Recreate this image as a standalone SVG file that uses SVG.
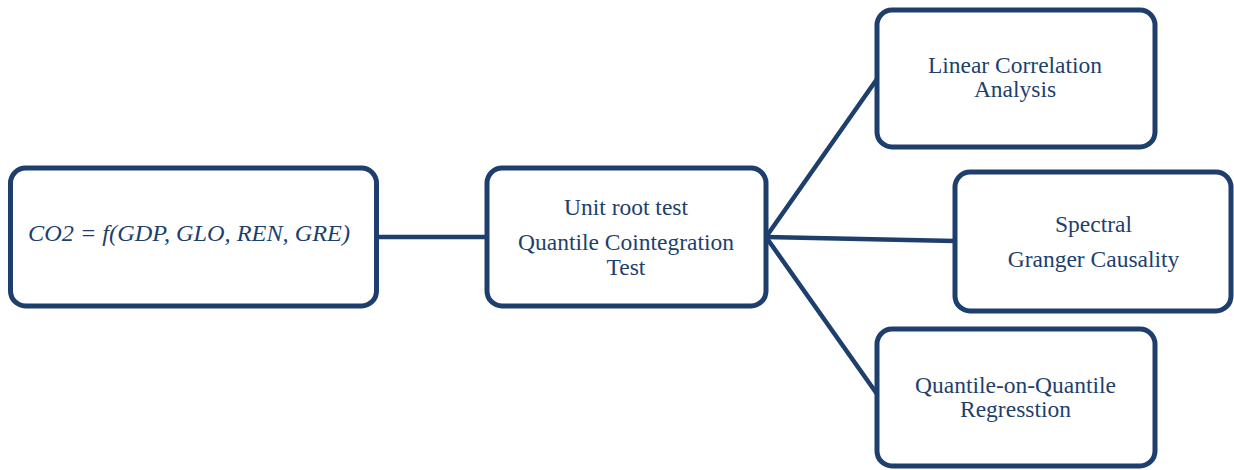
<svg xmlns="http://www.w3.org/2000/svg" width="1234" height="470" viewBox="0 0 1234 470">
<style>
.box{fill:#fff;stroke:#1E3F6D;stroke-width:5}
.ln{stroke:#1E3F6D;stroke-width:4.5;fill:none;stroke-linecap:round}
.t{font-family:"Liberation Serif","Times New Roman",serif;font-size:23.5px;fill:#1E3F6D;text-anchor:middle}
.m{font-family:"Liberation Serif","Times New Roman",serif;font-style:italic;font-size:24px;fill:#1E3F6D}
</style>
<rect width="1234" height="470" fill="#fff"/>
<g id="connectors">
<line class="ln" x1="377" y1="237" x2="487" y2="237"/>
<line class="ln" x1="766" y1="237" x2="877" y2="79"/>
<line class="ln" x1="766" y1="237" x2="955" y2="241"/>
<line class="ln" x1="766" y1="237" x2="877" y2="394"/>
</g>
<g id="model">
<rect class="box" x="10.5" y="168" width="366" height="138" rx="15"/>
<text class="m" x="28" y="241" textLength="322" lengthAdjust="spacingAndGlyphs">CO2 = f(GDP, GLO, REN, GRE)</text>
</g>
<g id="unitroot">
<rect class="box" x="487" y="168" width="279" height="138" rx="15"/>
<text class="t" x="626" y="215">Unit root test</text>
<text class="t" x="626" y="250">Quantile Cointegration</text>
<text class="t" x="626" y="275">Test</text>
</g>
<g id="linear">
<rect class="box" x="877" y="10" width="278" height="137" rx="15"/>
<text class="t" x="1015" y="73">Linear Correlation</text>
<text class="t" x="1015" y="97">Analysis</text>
</g>
<g id="spectral">
<rect class="box" x="955" y="172" width="276" height="139" rx="15"/>
<text class="t" x="1093.5" y="232">Spectral</text>
<text class="t" x="1093.5" y="267">Granger Causality</text>
</g>
<g id="qoq">
<rect class="box" x="877" y="329" width="278" height="137" rx="15"/>
<text class="t" x="1015.5" y="393">Quantile-on-Quantile</text>
<text class="t" x="1015.5" y="417">Regresstion</text>
</g>
</svg>
